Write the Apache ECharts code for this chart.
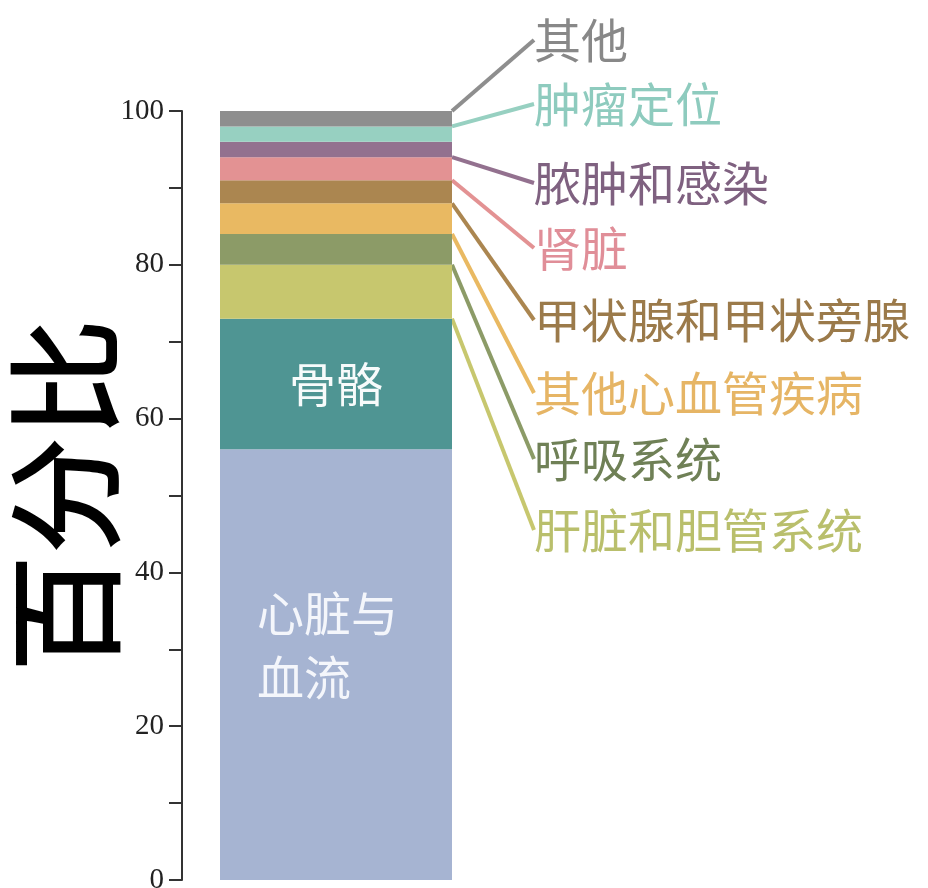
<!DOCTYPE html>
<html>
<head>
<meta charset="utf-8">
<script src="https://cdn.jsdelivr.net/npm/echarts@6/dist/echarts.min.js"></script>
<style>
html,body{margin:0;padding:0;background:#fff;}
#chart{width:928px;height:888px;}
</style>
</head>
<body>
<div id="chart"></div>
<script>
// ---- data ----
const categories = [''];
const seriesNames = ['心脏与血流', '骨骼', '肝脏和胆管系统', '呼吸系统', '其他心血管疾病', '甲状腺和甲状旁腺', '肾脏', '脓肿和感染', '肿瘤定位', '其他'];
const seriesValues = [56, 17, 7, 4, 4, 3, 3, 2, 2, 2];
const yTicks = [0, 20, 40, 60, 80, 100];

// ---- styles / layout ----
const barColors = ['#a6b4d2', '#4f9593', '#c7c76e', '#8c9b67', '#e9b962', '#ab8650', '#e39293', '#93718f', '#97d0c1', '#8e8e8e'];
const textColors = [null, null, '#b9bf6c', '#6f8056', '#e6b565', '#9b7a4a', '#e08e98', '#7f6180', '#8ecbbe', '#888888'];
const outsideLabelY = [null, null, 530, 459, 393, 320, 248, 183, 104, 40];
const FONT = '"Noto Sans CJK SC", "Noto Sans", sans-serif';

const chart = echarts.init(document.getElementById('chart'));

const series = seriesNames.map((name, i) => {
  const s = {
    name: name,
    type: 'bar',
    stack: 'total',
    barWidth: 232,
    data: [seriesValues[i]],
    itemStyle: { color: barColors[i] },
    emphasis: { disabled: true },
    silent: true
  };
  if (i === 0) {
    s.label = {
      show: true, position: 'insideLeft', distance: 37, offset: [0, -20],
      formatter: '心脏与\n血流', color: '#f4f6fb', fontSize: 47, lineHeight: 64,
      fontFamily: FONT, align: 'left'
    };
  } else if (i === 1) {
    s.label = {
      show: true, position: 'inside', formatter: name, color: '#f7fbfb',
      fontSize: 47, fontFamily: FONT
    };
  } else {
    s.label = {
      show: true, formatter: name, color: textColors[i], fontSize: 47,
      fontFamily: FONT, padding: [0, 0, 0, 4]
    };
    s.labelLayout = { x: 530, y: outsideLabelY[i], align: 'left', verticalAlign: 'middle' };
    s.labelLine = { show: true, length2: 0, smooth: false, lineStyle: { color: barColors[i], width: 4 } };
  }
  return s;
});

chart.setOption({
  backgroundColor: '#ffffff',
  animation: false,
  grid: { left: 182, top: 111, bottom: 8, width: 308, containLabel: false, outerBoundsMode: 'none' },
  xAxis: {
    type: 'category', data: categories,
    axisLine: { show: false }, axisTick: { show: false }, axisLabel: { show: false }
  },
  yAxis: {
    type: 'value', min: yTicks[0], max: yTicks[yTicks.length - 1], interval: 20,
    name: '百分比', nameLocation: 'middle', nameRotate: 90, nameGap: 58, nameMoveOverlap: false,
    nameTextStyle: { fontSize: 118, color: '#000', fontFamily: FONT, fontWeight: 500 },
    axisLine: { show: true, lineStyle: { color: '#333', width: 2 } },
    axisTick: { show: true, length: 13, lineStyle: { color: '#333', width: 2 } },
    minorTick: { show: true, splitNumber: 2, length: 13, lineStyle: { color: '#333', width: 2 } },
    splitLine: { show: false },
    axisLabel: { margin: 18, fontSize: 29, color: '#222', fontFamily: '"Liberation Serif", "DejaVu Serif", serif' }
  },
  series: series
});
</script>
</body>
</html>
